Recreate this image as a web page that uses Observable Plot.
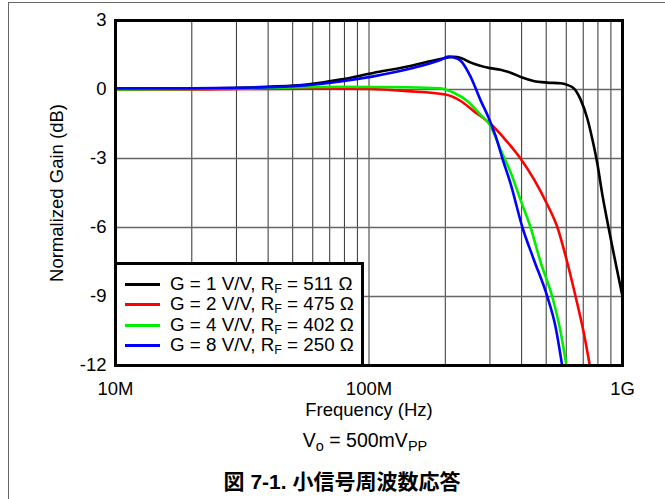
<!DOCTYPE html>
<html>
<head>
<meta charset="utf-8">
<script src="https://cdn.jsdelivr.net/npm/d3@7"></script>
<script src="https://cdn.jsdelivr.net/npm/@observablehq/plot@0.6"></script>
<style>
  body { margin: 0; background: #fff; }
  #wrap { position: relative; width: 665px; height: 499px; overflow: hidden; font-family: "Liberation Sans", Arial, sans-serif; color: #000; }
  #border { position: absolute; left: 8px; top: 2px; width: 700px; height: 600px; border-left: 1px solid #666; border-top: 1px solid #666; }
  #chart { position: absolute; left: 0; top: 0; }
  #legend { position: absolute; left: 114px; top: 262px; width: 250px; height: 105px; box-sizing: border-box; border: 3px solid #000; background: #fff; padding-top: 9px; }
  .row { position: relative; height: 20.4px; line-height: 20.4px; font-size: 18.8px; white-space: nowrap; }
  .row .sw { position: absolute; left: 8px; top: 9px; width: 35px; height: 3px; }
  .row .tx { position: absolute; left: 53px; top: 0; }
  sub { font-size: 12.5px; vertical-align: -3px; line-height: 0; }
  #cond { position: absolute; left: 215px; width: 300px; top: 430px; text-align: center; font-size: 19.5px; line-height: 20px; }
  #cond sub { font-size: 14.5px; vertical-align: -4px; }
  #caption { position: absolute; left: 92px; width: 500px; top: 469px; text-align: center; font-size: 21px; line-height: 26px; font-weight: bold; font-family: "Liberation Sans", "Noto Sans CJK JP", sans-serif; }
</style>
</head>
<body>
<div id="wrap">
  <div id="border"></div>
  <div id="chart"></div>
  <div id="legend"></div>
  <div id="cond">V<sub>o</sub> = 500mV<sub>PP</sub></div>
  <div id="caption">図 7-1. 小信号周波数応答</div>
</div>
<script>
// Frequencies in MHz, gains in dB
const freqG1 = [10, 20, 31, 40, 57, 77, 104, 142, 191, 215, 232, 251, 300, 330, 362, 402, 446, 505, 569, 605, 643, 683, 726, 760, 795, 832, 881, 1000];
const gainG1 = [0.02, 0.04, 0.07, 0.12, 0.22, 0.43, 0.72, 1.0, 1.33, 1.42, 1.36, 1.18, 0.93, 0.86, 0.73, 0.52, 0.37, 0.3, 0.27, 0.2, 0.05, -0.43, -1.25, -2.15, -3.2, -4.55, -6.0, -9.0];

const freqG2 = [10, 20, 31, 57, 77, 100, 142, 200, 230, 259, 293, 302, 340, 396, 447, 505, 554, 605, 653, 704, 743];
const gainG2 = [0.0, 0.0, 0.02, 0.04, 0.04, 0.02, -0.07, -0.22, -0.5, -0.94, -1.38, -1.5, -2.1, -3.0, -3.9, -5.0, -6.0, -7.5, -9.0, -10.6, -12.0];

const freqG4 = [10, 20, 31, 57, 77, 142, 191, 200, 216, 244, 275, 302, 330, 362, 396, 434, 475, 528, 569, 601];
const gainG4 = [0.0, 0.02, 0.05, 0.1, 0.12, 0.1, 0.05, 0.0, -0.14, -0.5, -1.09, -1.6, -2.6, -3.6, -4.8, -6.0, -7.5, -9.0, -10.5, -12.0];

const freqG8 = [10, 20, 31, 57, 77, 104, 142, 191, 206, 215, 230, 251, 275, 297, 316, 336, 362, 403, 447, 505, 544, 578];
const gainG8 = [0.05, 0.05, 0.07, 0.19, 0.35, 0.57, 0.88, 1.28, 1.43, 1.40, 1.25, 0.58, -0.45, -1.25, -2.03, -3.0, -4.1, -6.0, -7.4, -9.0, -10.3, -12.0];

const seriesNames = ["G = 1 V/V, R_F = 511 Ω", "G = 2 V/V, R_F = 475 Ω", "G = 4 V/V, R_F = 402 Ω", "G = 8 V/V, R_F = 250 Ω"];
const seriesColors = ["#000000", "#ff0000", "#00ee00", "#0000ff"];

const xTicks = [1e7, 1e8, 1e9];
const xTickLabels = ["10M", "100M", "1G"];
const yTicks = [3, 0, -3, -6, -9, -12];
const xGrid = [2, 3, 4, 5, 6, 7, 8, 9, 10, 20, 30, 40, 50, 60, 70, 80, 90, 100, 200, 300, 400, 500, 600, 700, 800, 900].map(m => m * 1e7);
const yGrid = [0, -3, -6, -9];

const allFreq = [freqG1, freqG2, freqG4, freqG8];
const allGain = [gainG1, gainG2, gainG4, gainG8];
const data = [];
allFreq.forEach((fs, i) => fs.forEach((f, j) => data.push({series: seriesNames[i], f: f * 1e6, g: allGain[i][j]})));

const chart = Plot.plot({
  width: 665,
  height: 425,
  marginLeft: 115,
  marginRight: 43,
  marginTop: 20,
  marginBottom: 60,
  style: {fontFamily: "Liberation Sans, Arial, sans-serif", fontSize: "18px", background: "transparent", color: "#000"},
  x: {type: "log", domain: [1e7, 1e9]},
  y: {domain: [-12, 3]},
  color: {domain: seriesNames, range: seriesColors},
  marks: [
    Plot.ruleX(xGrid, {stroke: "#333", strokeWidth: 1}),
    Plot.ruleY(yGrid, {stroke: "#666", strokeWidth: 1.6}),
    Plot.line(data, {x: "f", y: "g", z: "series", stroke: "series", strokeWidth: 2.6, curve: "monotone-x", clip: true}),
    Plot.frame({stroke: "#000", strokeWidth: 3}),
    Plot.axisX({ticks: xTicks, tickFormat: d => xTickLabels[xTicks.indexOf(d)], tickSize: 0, tickPadding: 16, label: null, fontSize: 18.5}),
    Plot.axisY({ticks: yTicks, tickFormat: d => String(d), tickSize: 0, tickPadding: 9, label: null, fontSize: 18.5}),
    Plot.text(["Frequency (Hz)"], {frameAnchor: "bottom", dy: 45, fontSize: 18.5, textAnchor: "middle", lineAnchor: "middle"}),
    Plot.text(["Normalized Gain (dB)"], {frameAnchor: "left", dx: -58, rotate: -90, fontSize: 18.5, textAnchor: "middle", lineAnchor: "middle"})
  ]
});
document.getElementById("chart").appendChild(chart);

const legend = document.getElementById("legend");
seriesNames.forEach((name, i) => {
  const row = document.createElement("div");
  row.className = "row";
  const sw = document.createElement("div");
  sw.className = "sw";
  sw.style.background = seriesColors[i];
  const tx = document.createElement("div");
  tx.className = "tx";
  const parts = name.split("R_F");
  tx.innerHTML = parts[0] + "R<sub>F</sub>" + parts[1];
  row.appendChild(sw);
  row.appendChild(tx);
  legend.appendChild(row);
});
</script>
</body>
</html>
